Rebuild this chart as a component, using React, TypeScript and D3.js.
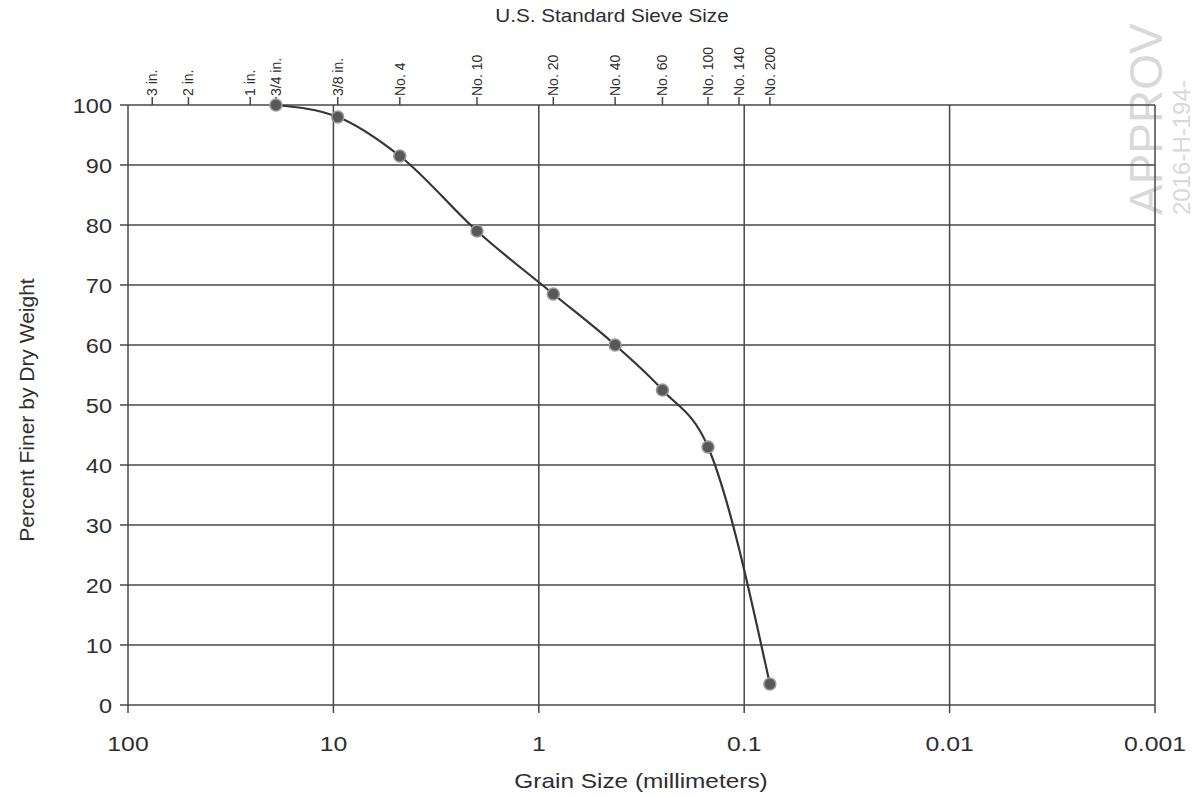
import React from "react";
import * as d3 from "d3";

// ---- data ----
const sieveLabels = ["3 in.", "2 in.", "1 in.", "3/4 in.", "3/8 in.", "No. 4", "No. 10", "No. 20", "No. 40", "No. 60", "No. 100", "No. 140", "No. 200"];
const sieveSizesMm = [76.2, 50.8, 25.4, 19.05, 9.525, 4.75, 2.0, 0.85, 0.425, 0.25, 0.15, 0.106, 0.075];

const sampleSizesMm = [19.05, 9.525, 4.75, 2.0, 0.85, 0.425, 0.25, 0.15, 0.075];
const percentFiner = [100, 98, 91.5, 79, 68.5, 60, 52.5, 43, 3.5];

const xTickValues = [100, 10, 1, 0.1, 0.01, 0.001];
const xTickLabels = ["100", "10", "1", "0.1", "0.01", "0.001"];
const yTickValues = [0, 10, 20, 30, 40, 50, 60, 70, 80, 90, 100];

const W = 1194;
const H = 796;
const FONT = "'Liberation Sans', Arial, sans-serif";

export default function App() {
  const x = d3.scaleLog().domain([100, 0.001]).range([128, 1155]);
  const y = d3.scaleLinear().domain([0, 100]).range([705, 105]);

  const pts = sampleSizesMm.map((d, i) => [x(d), y(percentFiner[i])] as [number, number]);
  const line = d3.line().curve(d3.curveMonotoneX)(pts) || "";

  const gridColor = "#474747";
  const textColor = "#2e2e2e";
  const [x0, x1] = x.range();
  const [y0, y1] = y.range();

  return (
    <svg
      width={W}
      height={H}
      style={{ position: "absolute", left: 0, top: 0, background: "#fff" }}
      fontFamily={FONT}
    >
      <rect x={0} y={0} width={W} height={H} fill="#fff" />

      {/* watermark */}
      <g fill="#d9d9d9" transform="translate(1162,215) rotate(-90)">
        <text x={0} y={0} fontSize={46} fontFamily={FONT}>APPROV</text>
        <text x={0} y={28} fontSize={24} fontFamily={FONT}>2016-H-194-</text>
      </g>

      {/* horizontal gridlines */}
      {yTickValues.map((v) => (
        <line key={"h" + v} x1={x0 - 8} x2={x1} y1={y(v)} y2={y(v)} stroke={gridColor} strokeWidth={1.5} />
      ))}
      {/* vertical gridlines at decades */}
      {xTickValues.map((v) => (
        <line key={"v" + v} x1={x(v)} x2={x(v)} y1={y1} y2={y0 + 8} stroke={gridColor} strokeWidth={1.5} />
      ))}

      {/* y tick labels */}
      {yTickValues.map((v) => (
        <text
          key={"yl" + v}
          transform={`translate(112,${y(v)}) scale(1.12,1)`}
          dy="0.36em"
          textAnchor="end"
          fontSize={21}
          fill={textColor}
        >
          {v}
        </text>
      ))}

      {/* x tick labels */}
      {xTickValues.map((v, i) => (
        <text
          key={"xl" + v}
          transform={`translate(${x(v)},751) scale(1.18,1)`}
          textAnchor="middle"
          fontSize={21}
          fill={textColor}
        >
          {xTickLabels[i]}
        </text>
      ))}

      {/* axis titles */}
      <text transform="translate(641,788) scale(1.22,1)" textAnchor="middle" fontSize={20} fill={textColor}>
        Grain Size (millimeters)
      </text>
      <text
        transform={`translate(34,${(y0 + y1) / 2 + 5}) rotate(-90)`}
        textAnchor="middle"
        fontSize={21}
        fill={textColor}
      >
        Percent Finer by Dry Weight
      </text>

      {/* top sieve axis */}
      <text transform="translate(612,22) scale(1.15,1)" textAnchor="middle" fontSize={18} fill={textColor}>
        U.S. Standard Sieve Size
      </text>
      {sieveSizesMm.map((s, i) => (
        <g key={"s" + i} transform={`translate(${x(s)},${y1})`}>
          <line x1={0} x2={0} y1={0} y2={-8} stroke={gridColor} strokeWidth={1.5} />
          <text transform="translate(0,-9) rotate(-90)" x={0} y={0} dy="0.35em" fontSize={14} fill={textColor}>
            {sieveLabels[i]}
          </text>
        </g>
      ))}

      {/* curve */}
      <path d={line} fill="none" stroke="#353535" strokeWidth={2.2} />
      {pts.map((p, i) => (
        <circle key={"c" + i} cx={p[0]} cy={p[1]} r={6} fill="#585858" stroke="#9a9a9a" strokeWidth={1.5} />
      ))}
    </svg>
  );
}
